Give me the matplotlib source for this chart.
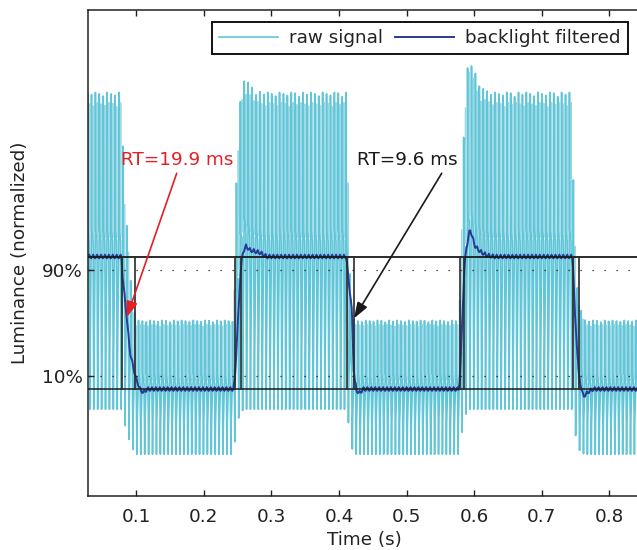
import numpy as np
import matplotlib
matplotlib.use("Agg")
import matplotlib.pyplot as plt

# ---------------- data ----------------
X_LIM = (0.0288, 0.845)
Y_LIM = (-0.805, 2.862)
X_TICKS = [0.1, 0.2, 0.3, 0.4, 0.5, 0.6, 0.7, 0.8]
X_TICK_LABELS = ["0.1", "0.2", "0.3", "0.4", "0.5", "0.6", "0.7", "0.8"]
Y_TICKS = [0.1, 0.9]
Y_TICK_LABELS = ["10%", "90%"]

# PWM flicker of the raw signal
PWM_PERIOD = 0.0058
PWM_START = 0.0275

# envelope of the raw signal (time, top spike, upper band, lower band, bottom)
ENV_T = [0.0288, 0.0775, 0.0821, 0.0880, 0.0930, 0.1000, 0.2440, 0.2474, 0.2533,
         0.2592, 0.2632, 0.2700, 0.2780, 0.2900, 0.4110, 0.4147, 0.4180, 0.4230,
         0.5780, 0.5839, 0.5890, 0.5939, 0.6002, 0.6061, 0.6112, 0.6209, 0.6300,
         0.7445, 0.7480, 0.7530, 0.7580, 0.7650, 0.8450]
ENV_TOP = [2.24, 2.24, 1.48, 1.11, 0.70, 0.52, 0.52, 1.47, 2.16,
           2.35, 2.33, 2.29, 2.25, 2.24, 2.24, 1.20, 0.55, 0.52,
           0.52, 1.83, 2.40, 2.51, 2.41, 2.32, 2.27, 2.26, 2.24,
           2.24, 1.30, 0.75, 0.60, 0.52, 0.52]
ENV_BAND = [1.15, 1.15, 0.85, 0.50, 0.25, 0.07, 0.07, 0.60, 1.10,
            1.25, 1.22, 1.18, 1.16, 1.15, 1.15, 0.60, 0.15, 0.07,
            0.07, 0.90, 1.25, 1.32, 1.22, 1.18, 1.16, 1.15, 1.15,
            1.15, 0.70, 0.20, 0.10, 0.07, 0.07]
ENV_MID = [0.25, 0.25, 0.10, -0.05, -0.15, -0.25, -0.25, 0.00, 0.22,
           0.28, 0.27, 0.26, 0.25, 0.25, 0.25, 0.00, -0.20, -0.25,
           -0.25, 0.10, 0.28, 0.30, 0.27, 0.26, 0.25, 0.25, 0.25,
           0.25, 0.00, -0.20, -0.24, -0.25, -0.25]
ENV_BOT = [-0.15, -0.15, -0.25, -0.36, -0.44, -0.49, -0.49, -0.30, -0.18,
           -0.15, -0.15, -0.15, -0.15, -0.15, -0.15, -0.28, -0.43, -0.49,
           -0.49, -0.25, -0.17, -0.15, -0.15, -0.15, -0.15, -0.15, -0.15,
           -0.15, -0.28, -0.43, -0.48, -0.49, -0.49]

# shape of one PWM cycle (main strokes)
CYCLE_PHASE = [0.00, 0.04, 0.09, 0.45, 0.56, 0.62, 0.70]
CYCLE_LEVEL = ["band", "top", "band", "band", "mid", "bot", "mid"]
CYCLE_OFFSET = [0.0, 0.0, 0.05, -0.03, 0.0, 0.0, 0.0]
# fainter interleaved spike in the middle of each cycle
SUB_PHASE = [0.44, 0.50, 0.56]
SUB_LEVEL = ["band", "top2", "band"]
TOP2_FRACTION = 0.93
# slight cycle-to-cycle variation of the spike heights seen in the picture
SPIKE_HEIGHT = [1.00, 0.985, 1.00, 0.99, 0.975, 1.00, 0.99, 0.98, 1.00, 0.995, 0.97]

# backlight filtered signal (key points)
FILT_T = [0.0288, 0.0780, 0.0786, 0.0856, 0.0905, 0.0984, 0.1053, 0.1102, 0.1160,
          0.2440, 0.2460, 0.2544, 0.2575, 0.2618, 0.2682, 0.2830, 0.2930,
          0.4110, 0.4125, 0.4187, 0.4221, 0.4261, 0.4300, 0.4360,
          0.5775, 0.5791, 0.5855, 0.5880, 0.5939, 0.6013, 0.6087, 0.6186, 0.6300,
          0.7455, 0.7468, 0.7493, 0.7552, 0.7592, 0.7616, 0.7690, 0.7760, 0.8450]
FILT_V = [1.00, 1.00, 0.90, 0.55, 0.28, 0.10, 0.00, -0.025, 0.00,
          0.00, 0.10, 0.90, 1.03, 1.08, 1.05, 1.03, 1.00,
          1.00, 0.90, 0.62, 0.10, -0.01, -0.03, 0.00,
          0.00, 0.10, 0.90, 1.05, 1.21, 1.08, 1.04, 1.01, 1.00,
          1.00, 0.90, 0.55, 0.10, 0.00, -0.055, -0.02, 0.00, 0.00]
RIPPLE = [0.00, 0.016, -0.004, -0.012]

# response time markers (90 % and 10 % crossing times)
RT_T90 = [0.0785, 0.2544, 0.4125, 0.5855, 0.7468]
RT_T10 = [0.0984, 0.2460, 0.4221, 0.5791, 0.7552]

ANNOTATIONS = [
    {"text": "RT=19.9 ms", "text_xy": (0.1601, 1.730), "start": (0.1597, 1.630),
     "tip": (0.0856, 0.543), "color": "#e41f26"},
    {"text": "RT=9.6 ms", "text_xy": (0.5013, 1.730), "start": (0.5520, 1.630),
     "tip": (0.4221, 0.535), "color": "#1a1a1a"},
]

# ---------------- build the curves ----------------
env = {"top": ENV_TOP, "band": ENV_BAND, "mid": ENV_MID, "bot": ENV_BOT}


def level_at(t, lev, h):
    b = np.interp(t, ENV_T, ENV_BAND)
    tp = np.interp(t, ENV_T, ENV_TOP)
    if lev == "top":
        return b + h * (tp - b)
    if lev == "top2":
        return b + TOP2_FRACTION * h * (tp - b)
    return np.interp(t, ENV_T, env[lev])


n_cyc = int(np.ceil((X_LIM[1] - PWM_START) / PWM_PERIOD)) + 1
raw_t, raw_v, sub_t, sub_v = [], [], [], []
for k in range(n_cyc):
    t0 = PWM_START + k * PWM_PERIOD
    h = SPIKE_HEIGHT[k % len(SPIKE_HEIGHT)]
    for ph, lev, off in zip(CYCLE_PHASE, CYCLE_LEVEL, CYCLE_OFFSET):
        t = t0 + ph * PWM_PERIOD
        raw_t.append(t)
        raw_v.append(level_at(t, lev, h) + off)
    for ph, lev in zip(SUB_PHASE, SUB_LEVEL):
        t = t0 + ph * PWM_PERIOD
        sub_t.append(t)
        sub_v.append(level_at(t, lev, SPIKE_HEIGHT[(k + 3) % len(SPIKE_HEIGHT)]))
    sub_t.append(np.nan)
    sub_v.append(np.nan)

step = PWM_PERIOD / len(RIPPLE)
filt_t = np.arange(X_LIM[0], X_LIM[1], step)
rip = np.array([RIPPLE[i % len(RIPPLE)] for i in range(len(filt_t))])
filt_v = np.interp(filt_t, FILT_T, FILT_V) + rip

# ---------------- figure ----------------
FS = 13.2
TXT = "#222222"
plt.rcParams["font.family"] = ["DejaVu Sans"]

fig = plt.figure(figsize=(6.37, 5.50), dpi=100)
ax = fig.add_axes([0.1386, 0.0982, 0.8655, 0.8836])

ax.plot(sub_t, sub_v, color="#9fd9e6", lw=0.9, zorder=1)
ax.plot(raw_t, raw_v, color="#62c6d9", lw=1.2, zorder=1.5, label="raw signal")
ax.plot(filt_t, filt_v, color="#2a3a96", lw=1.4, zorder=2, label="backlight filtered")

ax.axhline(1.0, color="#1a1a1a", lw=1.3, zorder=3)
ax.axhline(0.0, color="#1a1a1a", lw=1.1, zorder=3)
for t in RT_T90 + RT_T10:
    ax.plot([t, t], [0.0, 1.0], color="#2a2a2a", lw=1.2, zorder=3)
for yv in Y_TICKS:
    ax.axhline(yv, color="#1a1a1a", lw=0.9, ls=(0, (1.0, 8.6)), zorder=4)

for a in ANNOTATIONS:
    ax.text(a["text_xy"][0], a["text_xy"][1], a["text"], color=a["color"],
            fontsize=FS, ha="center", va="center", zorder=6)
    ax.annotate("", xy=a["tip"], xytext=a["start"],
                arrowprops=dict(arrowstyle="-|>,head_length=0.8,head_width=0.28",
                                color=a["color"], lw=1.2, mutation_scale=12,
                                shrinkA=0, shrinkB=0), zorder=6)

ax.set_xlim(*X_LIM)
ax.set_ylim(*Y_LIM)
ax.set_xticks(X_TICKS)
ax.set_xticklabels(X_TICK_LABELS)
ax.set_yticks(Y_TICKS)
ax.set_yticklabels(Y_TICK_LABELS)
ax.tick_params(axis="x", direction="in", length=4, width=1.0, top=True,
               labelsize=FS, labelcolor=TXT, pad=9, color="#222222")
ax.tick_params(axis="y", direction="in", length=4, width=1.0,
               labelsize=FS, labelcolor=TXT, pad=4, color="#222222")
for s in ["left", "bottom", "top"]:
    ax.spines[s].set_linewidth(1.1)
    ax.spines[s].set_color("#222222")
ax.spines["right"].set_visible(False)

ax.set_xlabel("Time (s)", fontsize=FS, color=TXT, labelpad=3)
ax.set_ylabel("Luminance (normalized)", fontsize=FS, color=TXT)
ax.yaxis.set_label_coords(-0.108, 0.5)

leg = ax.legend(loc="upper right", bbox_to_anchor=(0.9795, 0.9759), borderaxespad=0,
                ncol=2, fontsize=FS, handlelength=3.2, handletextpad=0.64,
                columnspacing=0.64, borderpad=0.4, fancybox=False, framealpha=1,
                edgecolor="#111111")
leg.get_frame().set_linewidth(1.4)
for txt in leg.get_texts():
    txt.set_color(TXT)

fig.savefig("out.png", dpi=100)
